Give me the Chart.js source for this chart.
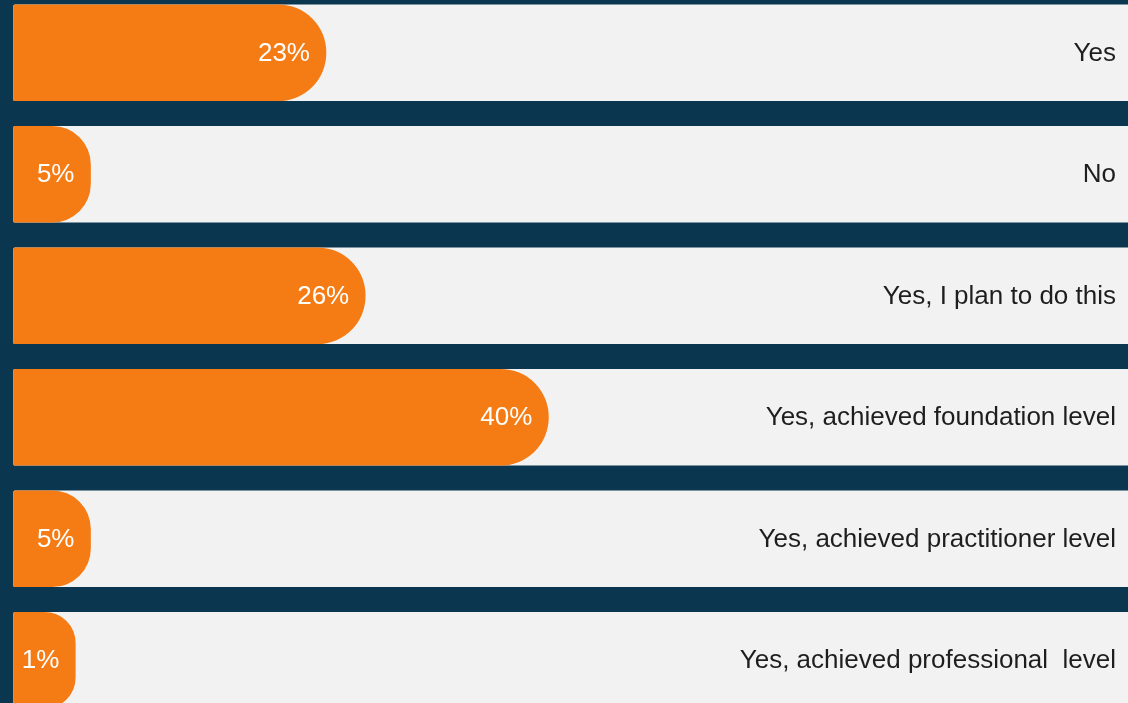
<!DOCTYPE html>
<html>
<head>
<meta charset="utf-8">
<script src="https://cdn.jsdelivr.net/npm/chart.js@4/dist/chart.umd.min.js"></script>
<style>
  html, body { margin: 0; padding: 0; background: #0a364f; overflow: hidden; }
  #wrap { position: relative; width: 1128px; height: 703px; overflow: hidden; }
  #box { position: absolute; left: 0; top: -8.5px; width: 1128px; height: 729px; }
</style>
</head>
<body>
<div id="wrap"><div id="box"><canvas id="chart"></canvas></div></div>
<script>
/* ----------- Data ----------- */
const categories = [
  'Yes',
  'No',
  'Yes, I plan to do this',
  'Yes, achieved foundation level',
  'Yes, achieved practitioner level',
  'Yes, achieved professional  level'
];
const shares = [23, 5, 26, 40, 5, 1];

/* ----------- Scale ----------- */
const AXIS_MIN = -0.9;
const AXIS_MAX = 84.3;

const ORANGE = '#f57c14';
const TRACK = '#f2f2f2';
const FONT = '"Liberation Sans", Arial, Helvetica, sans-serif';

/* ----------- Label plugin ----------- */
const rowLabels = {
  id: 'rowLabels',
  afterDatasetsDraw(chart){
    const ctx = chart.ctx;
    const bars = chart.getDatasetMeta(0).data;
    const tracks = chart.getDatasetMeta(1).data;
    ctx.save();
    ctx.font = '26px ' + FONT;
    ctx.textBaseline = 'middle';
    ctx.textAlign = 'right';
    bars.forEach((bar, i) => {
      ctx.fillStyle = '#ffffff';
      ctx.fillText(shares[i] + '%', bar.x - 16, bar.y + 1);
    });
    tracks.forEach((t, i) => {
      ctx.fillStyle = '#1e1e1e';
      ctx.fillText(categories[i], chart.chartArea.right - 12, t.y + 1);
    });
    ctx.restore();
  }
};

new Chart(document.getElementById('chart').getContext('2d'), {
  type: 'bar',
  data: {
    labels: categories,
    datasets: [
      {
        data: shares,
        backgroundColor: ORANGE,
        base: AXIS_MIN,
        grouped: false,
        barThickness: 96,
        minBarLength: 62,
        borderWidth: 0,
        borderSkipped: false,
        borderRadius: { topLeft: 2, bottomLeft: 2, topRight: 48, bottomRight: 48 }
      },
      {
        data: categories.map(() => AXIS_MAX),
        backgroundColor: TRACK,
        base: AXIS_MIN,
        grouped: false,
        barThickness: 96,
        borderWidth: 0,
        borderSkipped: false,
        borderRadius: { topLeft: 2, bottomLeft: 2, topRight: 0, bottomRight: 0 }
      }
    ]
  },
  options: {
    indexAxis: 'y',
    responsive: true,
    maintainAspectRatio: false,
    animation: false,
    layout: { padding: { left: 13.3, right: 0, top: 0, bottom: 0 } },
    plugins: {
      legend: { display: false },
      tooltip: { enabled: false }
    },
    scales: {
      x: { display: false, min: AXIS_MIN, max: AXIS_MAX },
      y: { display: false, offset: true }
    }
  },
  plugins: [rowLabels]
});
</script>
</body>
</html>
